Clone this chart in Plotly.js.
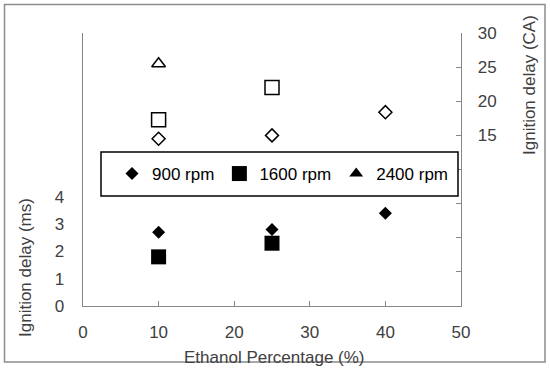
<!DOCTYPE html>
<html><head><meta charset="utf-8">
<script src="https://cdn.plot.ly/plotly-3.0.1.min.js"></script>
<style>html,body{margin:0;padding:0;background:#fff}#chart{width:550px;height:377px}</style>
</head><body><div id="chart"></div>
<script>
// Ethanol percentage (%)
const ethanol900 = [10, 25, 40];
const ethanol1600 = [10, 25];
const ethanol2400 = [10];
// Ignition delay (ms) - left axis, filled markers
const ms900 = [2.7, 2.8, 3.4];
const ms1600 = [1.8, 2.3];
const ms2400 = [null];
// Ignition delay (CA) - right axis, open markers
const ca900 = [14.5, 15.0, 18.4];
const ca1600 = [17.3, 22.0];
const ca2400 = [25.5];
const seriesNames = ['900 rpm', '1600 rpm', '2400 rpm'];
const xTicks = [0, 10, 20, 30, 40, 50];
const leftTicks = [0, 1, 2, 3, 4];
const rightTicks = [-5, 0, 5, 10, 15, 20, 25, 30];
const rightTickText = ['', '', '', '', '15', '20', '25', '30'];

const font = 'Liberation Sans, Arial, sans-serif';
const tcol = '#404040';
const fs = 17;

const traces = [
  {x: ethanol900, y: ms900, name: seriesNames[0], type: 'scatter', mode: 'markers',
   marker: {symbol: 'diamond', size: 10, color: '#000'}},
  {x: ethanol1600, y: ms1600, name: seriesNames[1], type: 'scatter', mode: 'markers',
   marker: {symbol: 'square', size: 15, color: '#000'}},
  {x: ethanol2400, y: ms2400, name: seriesNames[2], type: 'scatter', mode: 'markers',
   marker: {symbol: 'triangle-up', size: 12, color: '#000'}},
  {x: ethanol900, y: ca900, yaxis: 'y2', showlegend: false, type: 'scatter', mode: 'markers',
   marker: {symbol: 'diamond-open', size: 10, color: '#000', line: {width: 1.5}}},
  {x: ethanol1600, y: ca1600, yaxis: 'y2', showlegend: false, type: 'scatter', mode: 'markers',
   marker: {symbol: 'square-open', size: 14, color: '#000', line: {width: 1.5}}},
  {x: ethanol2400, y: ca2400, yaxis: 'y2', showlegend: false, type: 'scatter', mode: 'markers',
   marker: {symbol: 'triangle-up-open', size: 12, color: '#000', line: {width: 1.5}}}
];

const L = 83, R = 89, T = 33, B = 71, W = 550, H = 377;
const pw = W - L - R, ph = H - T - B;
const px = v => (v - L) / pw;
const py = v => (H - B - v) / ph;

const layout = {
  width: W, height: H,
  margin: {l: L, r: R, t: T, b: B, pad: 0},
  paper_bgcolor: '#fff', plot_bgcolor: '#fff',
  font: {family: font, size: fs, color: tcol},
  showlegend: true,
  xaxis: {range: [0, 50], tickvals: xTicks, showgrid: false, zeroline: false,
    showline: true, linecolor: '#878787', linewidth: 1.3, ticks: 'inside', ticklen: 5,
    tickcolor: '#878787', ticklabelstandoff: 10, tickfont: {size: fs, color: tcol}},
  yaxis: {range: [0, 10], tickvals: leftTicks, showgrid: false, zeroline: false,
    showline: true, linecolor: '#878787', linewidth: 1.3, ticks: '',
    ticklabelstandoff: 14, tickfont: {size: fs, color: tcol}},
  yaxis2: {range: [-10, 30], overlaying: 'y', side: 'right', tickvals: rightTicks,
    ticktext: rightTickText, showgrid: false, zeroline: false, showline: true,
    linecolor: '#878787', linewidth: 1.3, ticks: 'inside', ticklen: 5, tickcolor: '#878787',
    ticklabelstandoff: 12, tickfont: {size: fs, color: tcol}},
  legend: {orientation: 'h', x: px(112), y: py(174), xanchor: 'left', yanchor: 'middle',
    bgcolor: 'rgba(0,0,0,0)', borderwidth: 0, font: {size: fs, color: '#000'},
    itemwidth: 30},
  shapes: [
    {type: 'rect', xref: 'paper', yref: 'paper', x0: px(101), x1: px(458), y0: py(152), y1: py(196),
     line: {color: '#000', width: 1.5}, fillcolor: '#fff', layer: 'above'},
    {type: 'rect', xref: 'paper', yref: 'paper', x0: px(4.5), x1: px(545), y0: py(4.5), y1: py(362),
     line: {color: '#8c8c8c', width: 1.5}, fillcolor: 'rgba(0,0,0,0)', layer: 'below'}
  ],
  annotations: [
    {text: 'Ethanol Percentage (%)', xref: 'paper', yref: 'paper', x: px(274), y: py(357),
     showarrow: false, xanchor: 'center', yanchor: 'middle', font: {size: fs, color: tcol}},
    {text: 'Ignition delay (ms)', xref: 'paper', yref: 'paper', x: px(25), y: py(268),
     showarrow: false, textangle: -90, xanchor: 'center', yanchor: 'middle', font: {size: fs, color: tcol}},
    {text: 'Ignition delay (CA)', xref: 'paper', yref: 'paper', x: px(529), y: py(85),
     showarrow: false, textangle: -90, xanchor: 'center', yanchor: 'middle', font: {size: fs, color: tcol}}
  ]
};

Plotly.newPlot('chart', traces, layout, {displayModeBar: false, staticPlot: true});
</script>
</body></html>
